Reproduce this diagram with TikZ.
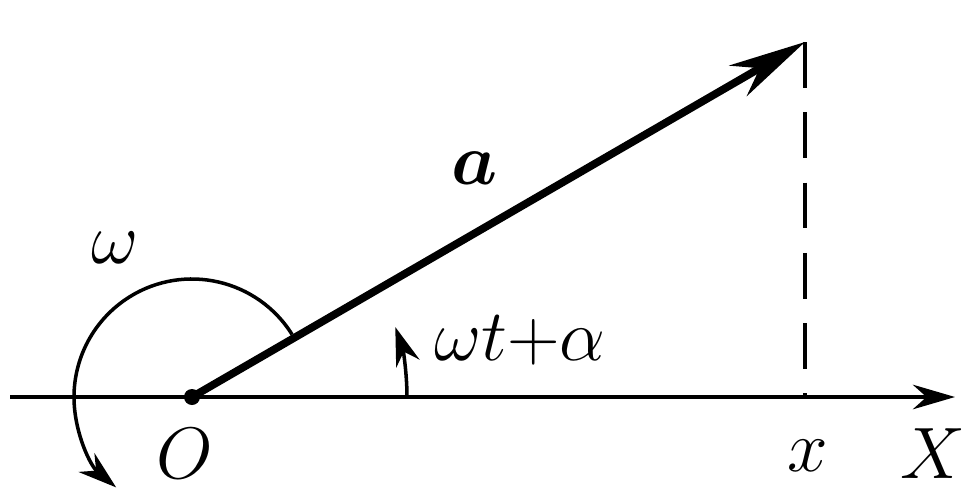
\documentclass[tikz,border=0pt]{standalone}
\usepackage{amsmath, amssymb}
\usepackage{tikz}
\usetikzlibrary{arrows.meta, positioning, calc}

\begin{document}
\begin{tikzpicture}[
  lbl/.style={font=\fontsize{22}{26}\selectfont, inner sep=1pt},
  axis/.style={-{Stealth[length=12pt, width=7pt]}, line width=1pt},
  vec/.style={-{Stealth[length=22pt, width=10pt]}, line width=2.2pt},
  arcarr/.style={-{Stealth[length=11pt, width=7pt]}, line width=1pt},
  proj/.style={dashed, dash pattern=on 13pt off 7pt, line width=1pt},
]
\useasboundingbox (0,0) rectangle (9.67,4.90);

% Points
\coordinate (O) at (1.92,0.93);
\coordinate (tip) at (8.05,4.48);
\coordinate (xstart) at (0.1,0.93);
\coordinate (xend) at (9.55,0.93);
\coordinate (foot) at (8.05,0.93);

% Axis and vector
\draw[axis] (xstart) -- (xend);
\draw[proj] (tip) -- (foot);
\draw[vec] (O) -- (tip);
\fill (O) circle (0.08);

% Rotation arcs
\draw[arcarr] ($(O)+(32:1.18)$) arc[start angle=32, end angle=230, radius=1.18];
\draw[arcarr] ($(O)+(0:2.15)$) arc[start angle=0, end angle=19, radius=2.15];

% Labels
\node[lbl] (omega) at (1.15,2.42) {$\omega$};
\node[lbl] (avec) at (4.75,3.22) {$\boldsymbol{a}$};
\node[lbl] (phase) at (5.2,1.5) {$\omega t{+}\alpha$};
\node[lbl] (Olbl) at (1.85,0.36) {$O$};
\node[lbl] (xlbl) at (8.08,0.34) {$x$};
\node[lbl] (Xlbl) at (9.33,0.36) {$X$};
\end{tikzpicture}
\end{document}
